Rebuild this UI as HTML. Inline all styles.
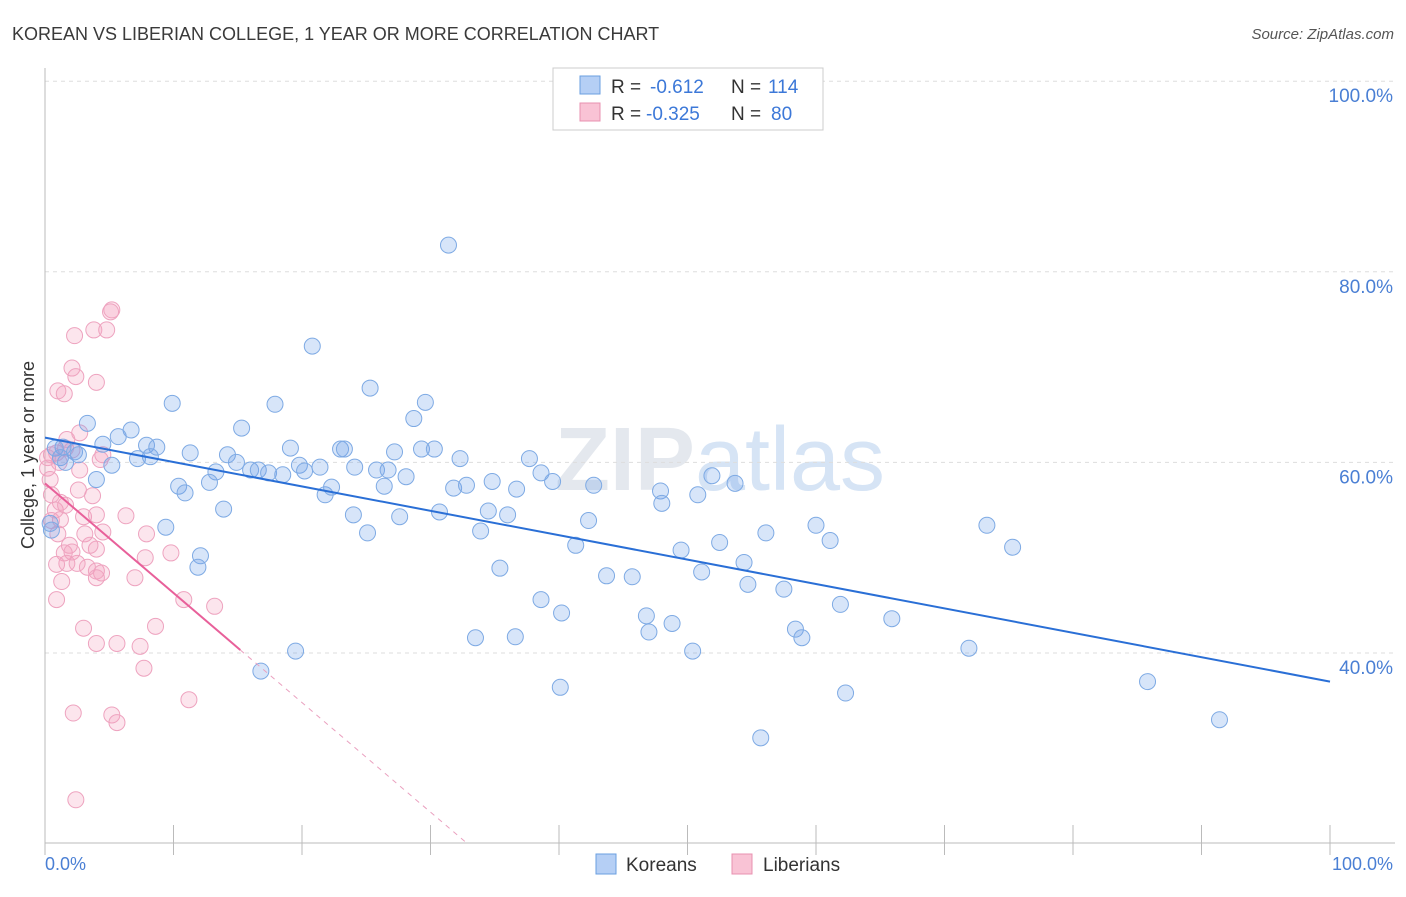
<!DOCTYPE html>
<html><head><meta charset="utf-8"><style>
body{margin:0;background:#fff;font-family:"Liberation Sans",sans-serif;}
</style></head><body>
<svg width="1406" height="892" xmlns="http://www.w3.org/2000/svg" id="chart">
<text x="12" y="40" font-size="18" fill="#3a3a3a">KOREAN VS LIBERIAN COLLEGE, 1 YEAR OR MORE CORRELATION CHART</text>
<text x="1394" y="39" font-size="15" fill="#555" font-style="italic" text-anchor="end">Source: ZipAtlas.com</text>
<text x="720" y="490" font-size="90" fill="#e4e8ee" text-anchor="middle" font-weight="bold">ZIP<tspan fill="#d6e4f5" font-weight="normal">atlas</tspan></text>
<text transform="translate(34,455) rotate(-90)" font-size="18" fill="#333" text-anchor="middle">College, 1 year or more</text>
<g id="grid"></g><g id="axes"></g><g id="pts"></g><g id="trend"></g>
<g>
<rect x="553" y="68" width="270" height="62" fill="#fff" stroke="#ccc"/>
<rect x="580" y="76" width="20" height="18" fill="#b5cff5" stroke="#6a9fe0"/>
<text x="611" y="93" font-size="19" fill="#333">R =</text>
<text x="650" y="93" font-size="19" fill="#3c78d8">-0.612</text>
<text x="731" y="93" font-size="19" fill="#333">N =</text>
<text x="768" y="93" font-size="19" fill="#3c78d8">114</text>
<rect x="580" y="103" width="20" height="18" fill="#f9c3d5" stroke="#e890b0"/>
<text x="611" y="120" font-size="19" fill="#333">R =</text>
<text x="646" y="120" font-size="19" fill="#3c78d8">-0.325</text>
<text x="731" y="120" font-size="19" fill="#333">N =</text>
<text x="771" y="120" font-size="19" fill="#3c78d8">80</text>
</g>
<g>
<rect x="596" y="854" width="20" height="20" fill="#b5cff5" stroke="#6a9fe0"/>
<text x="626" y="871" font-size="19" fill="#333">Koreans</text>
<rect x="732" y="854" width="20" height="20" fill="#f9c3d5" stroke="#e890b0"/>
<text x="763" y="871" font-size="19" fill="#333">Liberians</text>
</g>
</svg>
<script>
const yTicks=[100,80,60,40];
const yTickLabels=["100.0%","80.0%","60.0%","40.0%"];
const xTickLabels=["0.0%","100.0%"];
const blueX=[31.4,20.8,9.9,17.9,25.3,29.6,28.7,3.3,6.7,15.3,5.7,7.9,8.7,4.5,1.4,2.3,2.6,5.2,7.2,8.2,11.3,14.2,14.9,16.0,16.6,17.4,18.5,19.1,19.8,20.2,21.4,23.0,23.3,24.1,25.8,26.7,27.2,28.1,29.3,30.3,32.3,37.7,38.6,13.3,12.8,10.4,10.9,4.0,21.8,22.3,26.4,31.8,32.8,34.8,36.7,39.5,42.7,47.9,48.0,50.8,51.9,53.7,24.0,25.1,27.6,30.7,33.9,34.5,36.0,42.3,41.3,49.5,52.5,54.4,56.1,60.0,61.1,73.3,75.3,9.4,13.9,12.1,11.9,35.4,43.7,45.7,51.1,54.7,57.5,38.6,40.2,46.8,48.8,61.9,65.9,47.0,58.4,58.9,33.5,36.6,19.5,50.4,71.9,16.8,40.1,62.3,85.8,91.4,55.7,0.8,0.4,0.5,1.2,1.6];
const blueY=[82.8,72.2,66.2,66.1,67.8,66.3,64.6,64.1,63.4,63.6,62.7,61.8,61.6,61.9,61.6,61.1,60.8,59.7,60.4,60.6,61.0,60.8,60.0,59.2,59.2,58.9,58.7,61.5,59.7,59.1,59.5,61.4,61.4,59.5,59.2,59.2,61.1,58.5,61.4,61.4,60.4,60.4,58.9,59.0,57.9,57.5,56.8,58.2,56.6,57.4,57.5,57.3,57.6,58.0,57.2,58.0,57.6,57.0,55.7,56.6,58.6,57.8,54.5,52.6,54.3,54.8,52.8,54.9,54.5,53.9,51.3,50.8,51.6,49.5,52.6,53.4,51.8,53.4,51.1,53.2,55.1,50.2,49.0,48.9,48.1,48.0,48.5,47.2,46.7,45.6,44.2,43.9,43.1,45.1,43.6,42.2,42.5,41.6,41.6,41.7,40.2,40.2,40.5,38.1,36.4,35.8,37.0,33.0,31.1,61.5,53.6,52.9,60.5,60.0];
const pinkX=[5.2,5.1,3.8,4.8,2.3,2.1,2.4,4.0,1.0,1.5,1.7,1.6,0.9,0.2,0.2,0.5,1.1,2.7,2.1,4.5,2.7,4.3,0.4,0.5,2.6,3.7,1.2,0.8,3.0,0.5,4.0,6.3,1.0,3.1,4.5,1.9,1.5,4.0,1.7,2.5,3.3,4.0,4.4,2.1,0.9,1.3,4.0,7.0,7.9,7.8,9.8,0.9,10.8,13.2,3.0,8.6,4.0,5.6,7.4,7.7,2.2,5.2,5.6,11.2,2.4,1.2,3.5,1.6];
const pinkY=[76.0,75.8,73.9,73.9,73.3,69.9,69.0,68.4,67.5,67.2,62.4,61.5,61.0,60.5,59.4,60.8,60.0,63.1,61.3,60.8,59.2,60.3,58.2,56.6,57.1,56.5,55.8,55.0,54.3,53.9,54.5,54.4,52.5,52.5,52.7,51.3,50.5,50.9,49.4,49.4,49.0,48.6,48.4,50.6,49.3,47.5,47.9,47.9,52.5,50.0,50.5,45.6,45.6,44.9,42.6,42.8,41.0,41.0,40.7,38.4,33.7,33.5,32.7,35.1,24.6,54.0,51.3,55.5];
const blueTrend=[62.6,37.0];
const pinkTrend=[57.8,-1.15];
const pinkSolidEnd=15.2;
const NS="http://www.w3.org/2000/svg";
const X=v=>45+v*12.85;
const Y=v=>653-(v-40)*9.53;
function mk(t,a,p){const e=document.createElementNS(NS,t);for(const k in a)e.setAttribute(k,a[k]);p.appendChild(e);return e;}
const grid=document.getElementById('grid'),axes=document.getElementById('axes'),pts=document.getElementById('pts'),tr=document.getElementById('trend');
yTicks.forEach((t,i)=>{
 const l=mk('line',{x1:45,x2:1395,y1:Y(t),y2:Y(t),stroke:'#ddd','stroke-dasharray':'4,4'},grid);
 
 
 const tx=mk('text',{x:1393,y:Y(t)+21,'font-size':19,fill:'#4a7fd4','text-anchor':'end'},axes);
 tx.textContent=yTickLabels[i];
 
 
});
mk('line',{x1:45,x2:45,y1:68,y2:843,stroke:'#bbb'},axes);
mk('line',{x1:45,x2:1395,y1:843,y2:843,stroke:'#bbb'},axes);
for(let i=0;i<=10;i++){const t=mk('line',{x1:X(i*10),x2:X(i*10),y1:825,y2:855,stroke:'#bbb'},axes);
 
 }
const x0=mk('text',{x:45,y:870,'font-size':18,fill:'#4a7fd4'},axes);x0.textContent=xTickLabels[0];


const x1=mk('text',{x:1393,y:870,'font-size':18,fill:'#4a7fd4','text-anchor':'end'},axes);x1.textContent=xTickLabels[1];


pinkX.forEach((v,i)=>{const c=mk('circle',{cx:X(v),cy:Y(pinkY[i]),r:8,fill:'rgba(244,160,190,0.28)',stroke:'#eea3bf','stroke-width':1},pts);
 
 });
blueX.forEach((v,i)=>{const c=mk('circle',{cx:X(v),cy:Y(blueY[i]),r:8,fill:'rgba(110,160,235,0.28)',stroke:'#7eaae4','stroke-width':1},pts);
 
 });
const bl=mk('line',{x1:X(0),y1:Y(blueTrend[0]),x2:X(100),y2:Y(blueTrend[1]),stroke:'#2a6fd6','stroke-width':2},tr);


const pe=(20-pinkTrend[0])/pinkTrend[1];
const pl=mk('line',{x1:X(0),y1:Y(pinkTrend[0]),x2:X(pinkSolidEnd),y2:Y(pinkTrend[0]+pinkTrend[1]*pinkSolidEnd),stroke:'#e8609a','stroke-width':2},tr);


const pd=mk('line',{x1:X(pinkSolidEnd),y1:Y(pinkTrend[0]+pinkTrend[1]*pinkSolidEnd),x2:X(pe),y2:Y(20),stroke:'#eaa0bf','stroke-width':1,'stroke-dasharray':'5,5'},tr);


</script>
</body></html>
